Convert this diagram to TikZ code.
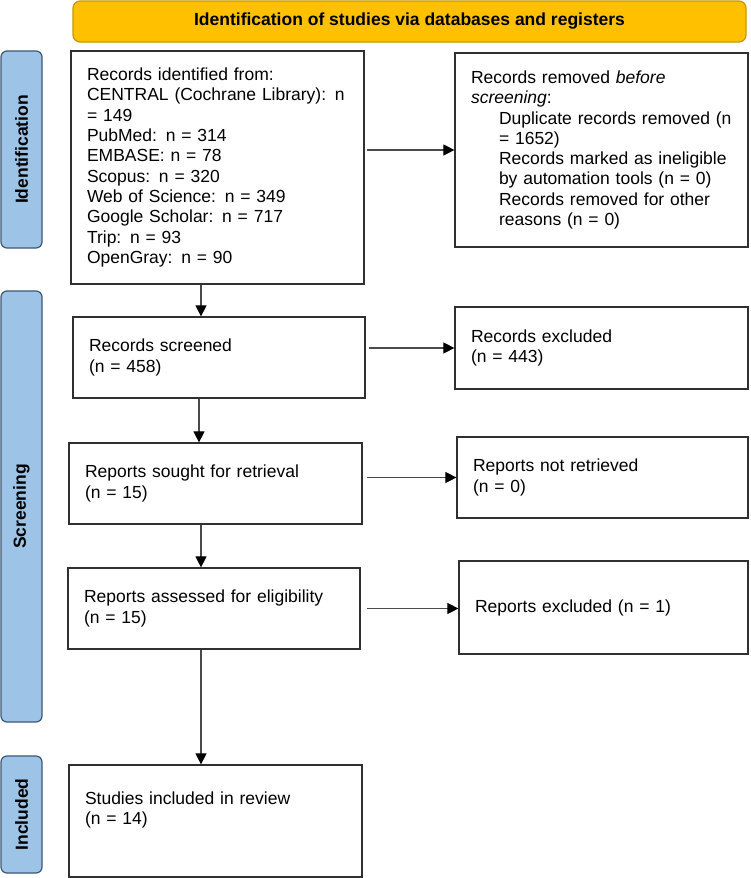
\documentclass[tikz,border=0pt]{standalone}
\usepackage{fontspec}
\setmainfont{Liberation Sans}
\usetikzlibrary{arrows.meta}
\definecolor{bannerfill}{HTML}{FFC000}
\definecolor{bannerdraw}{HTML}{C49A00}
\definecolor{barfill}{HTML}{9DC3E6}
\definecolor{bardraw}{HTML}{3B5873}
\definecolor{boxdraw}{HTML}{303030}
\definecolor{arrcol}{HTML}{4A4A4A}
\begin{document}
\begin{tikzpicture}[x=1pt,y=-1pt,
  box/.style={draw=boxdraw,line width=1.2pt,fill=white,rectangle,inner xsep=16pt,inner ysep=0pt,
    align=left,font=\fontsize{17.5}{20.3}\selectfont},
  bar/.style={draw=bardraw,line width=1.2pt,fill=barfill,rounded corners=6pt,inner sep=0pt,
    font=\fontsize{17.5}{20}\selectfont\bfseries},
  barlabel/.style={rotate=90,font=\fontsize{17.5}{20}\selectfont\bfseries},
  arr/.style={draw=arrcol,line width=1.1pt,-{Triangle[length=11pt,width=11pt,color=black]}}]
\useasboundingbox (0,0) rectangle (750,878);
% banner
\node[draw=bannerdraw,line width=1.2pt,fill=bannerfill,rounded corners=7pt,minimum width=673pt,minimum height=41pt,
  font=\fontsize{17.5}{20}\selectfont\bfseries] (banner) at (409.5,21.5) {Identification of studies via databases and registers};
% side bars
\node[bar,minimum width=41pt,minimum height=197pt] (idbar) at (21.5,149.5) {};
\node[barlabel] (idlab) at (idbar.center) {Identification};
\node[bar,minimum width=41pt,minimum height=431pt] (scbar) at (21.5,506.5) {};
\node[barlabel] (sclab) at (scbar.center) {Screening};
\node[bar,minimum width=41pt,minimum height=117pt] (inbar) at (21.5,814.5) {};
\node[barlabel] (inlab) at (inbar.center) {Included};
% boxes
\node[box,text width=261pt,minimum height=233pt] (ident) at (217.5,167.5)
 {Records identified from:\\CENTRAL (Cochrane Library): n\\= 149\\PubMed: n = 314\\EMBASE: n = 78\\Scopus: n = 320\\Web of Science: n = 349\\Google Scholar: n = 717\\Trip: n = 93\\OpenGray: n = 90};
\node[box,text width=261pt,minimum height=194pt] (removed) at (601.5,150)
 {Records removed \textit{before}\\\textit{screening}:\\
  \hspace*{28pt}Duplicate records removed (n\\
  \hspace*{28pt}= 1652)\\
  \hspace*{28pt}Records marked as ineligible\\
  \hspace*{28pt}by automation tools (n = 0)\\
  \hspace*{28pt}Records removed for other\\
  \hspace*{28pt}reasons (n = 0)};
\node[box,text width=260pt,minimum height=81pt] (screened) at (219,357.5) {Records screened\\(n = 458)};
\node[box,text width=261pt,minimum height=82pt] (excluded) at (601.5,348) {Records excluded\\(n = 443)};
\node[box,text width=261pt,minimum height=81pt] (sought) at (215.5,483.5) {Reports sought for retrieval\\(n = 15)};
\node[box,text width=259pt,minimum height=81pt] (notret) at (602.5,477.5) {Reports not retrieved\\(n = 0)};
\node[box,text width=260pt,minimum height=81pt] (assessed) at (214,608.5) {Reports assessed for eligibility\\(n = 15)};
\node[box,text width=257pt,minimum height=93pt] (repexcl) at (603.5,607.5) {Reports excluded (n = 1)};
\node[box,text width=261pt,minimum height=112pt] (studies) at (215.5,821) {Studies included in review\\(n = 14)\\\strut};
% vertical guide coordinates
\coordinate (vA) at (201,0);
\coordinate (vB) at (199,0);
% arrows
\draw[arr,shorten <=2pt] (ident.east |- removed.west) -- (removed.west);
\draw[arr,shorten <=3pt] (screened.east |- excluded.west) -- (excluded.west);
\draw[arr,shorten <=4pt] (sought.east |- notret.west) -- (notret.west);
\draw[arr,shorten <=6pt] (assessed.east) -- (repexcl.west |- assessed.east);
\draw[arr] (ident.south -| vA) -- (screened.north -| vA);
\draw[arr] (screened.south -| vB) -- (sought.north -| vB);
\draw[arr] (sought.south -| vA) -- (assessed.north -| vA);
\draw[arr] (assessed.south -| vA) -- (studies.north -| vA);
\end{tikzpicture}
\end{document}
